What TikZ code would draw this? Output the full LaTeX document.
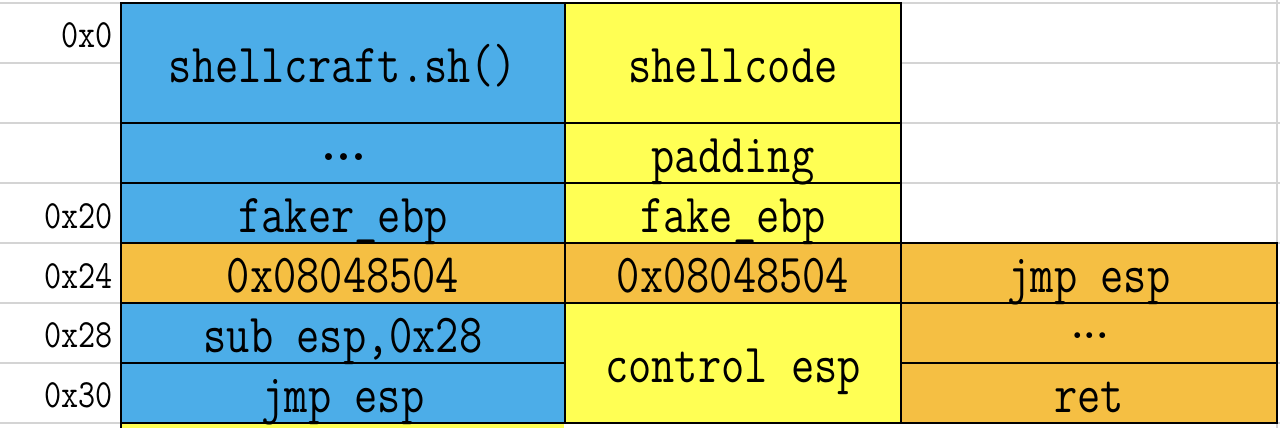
\documentclass[tikz,border=0pt]{standalone}
\usepackage{graphicx}
\definecolor{cblue}{RGB}{76,173,232}
\definecolor{cyellow}{RGB}{255,255,84}
\definecolor{corange}{RGB}{245,191,67}
\definecolor{cgrid}{RGB}{212,212,212}
\tikzset{
  gridline/.style={draw=cgrid, line width=1.5pt},
  cellbox/.style={draw=black, line width=2.4pt},
  celltext/.style={anchor=base, inner sep=0pt, font=\fontsize{55}{60}\selectfont\ttfamily},
  dotstext/.style={anchor=base, inner sep=0pt, font=\fontsize{48}{52}\selectfont\rmfamily\bfseries},
  smalldots/.style={anchor=base, inner sep=0pt, font=\fontsize{40}{44}\selectfont\rmfamily\bfseries},
  addr/.style={anchor=base east, inner sep=0pt, font=\fontsize{40}{44}\selectfont\ttfamily},
}
\newcommand{\sqz}[1]{\scalebox{0.82}[1]{#1}}
\newcommand{\sqa}[1]{\scalebox{0.83}[1]{#1}}
\begin{document}
\begin{tikzpicture}[x=1pt,y=-1pt]
\useasboundingbox (0,0) rectangle (1280,428);
% spreadsheet grid
\foreach \yy in {3,63,...,423} \draw[gridline] (0,\yy) -- (1280,\yy);
\draw[gridline] (1277,0) -- (1277,428);
% column 1
\path[cellbox, fill=cblue]   (121,3)   rectangle (565,123);
\path[cellbox, fill=cblue]   (121,123) rectangle (565,183);
\path[cellbox, fill=cblue]   (121,183) rectangle (565,243);
\path[cellbox, fill=corange] (121,243) rectangle (565,303);
\path[cellbox, fill=cblue]   (121,303) rectangle (565,363);
\path[cellbox, fill=cblue]   (121,363) rectangle (565,423);
\fill[cyellow] (122,424) rectangle (564,429);
\draw[black, line width=2.4pt] (121,423) -- (121,429);
% column 2
\path[cellbox, fill=cyellow] (565,3)   rectangle (901,123);
\path[cellbox, fill=cyellow] (565,123) rectangle (901,183);
\path[cellbox, fill=cyellow] (565,183) rectangle (901,243);
\path[cellbox, fill=corange] (565,243) rectangle (901,303);
\path[cellbox, fill=cyellow] (565,303) rectangle (901,423);
% column 3
\path[cellbox, fill=corange] (901,243) rectangle (1277,303);
\path[cellbox, fill=corange] (901,303) rectangle (1277,363);
\path[cellbox, fill=corange] (901,363) rectangle (1277,423);
% addresses
\node[addr] (a0)  at (113,48)  {\sqa{0x0}};
\node[addr] (a20) at (113,228) {\sqa{0x20}};
\node[addr] (a24) at (113,288) {\sqa{0x24}};
\node[addr] (a28) at (113,347) {\sqa{0x28}};
\node[addr] (a30) at (113,407) {\sqa{0x30}};
% column 1 texts
\node[celltext] (t11) at (343,82)  {\sqz{shellcraft.sh()}};
\node[dotstext] (t12) at (344,160) {...};
\node[celltext] (t13) at (343,232) {\sqz{faker\_ebp}};
\node[celltext] (t14) at (343,292) {\sqz{0x08048504}};
\node[celltext] (t15) at (343,352) {\sqz{sub esp,0x28}};
\node[celltext] (t16) at (343,412) {\sqz{jmp esp}};
% column 2 texts
\node[celltext] (t21) at (733,82)  {\sqz{shellcode}};
\node[celltext] (t22) at (733,172) {\sqz{padding}};
\node[celltext] (t23) at (733,232) {\sqz{fake\_ebp}};
\node[celltext] (t24) at (733,292) {\sqz{0x08048504}};
\node[celltext] (t25) at (733,382) {\sqz{control esp}};
% column 3 texts
\node[celltext] (t34) at (1089,292) {\sqz{jmp esp}};
\node[smalldots] (t35) at (1090,338) {...};
\node[celltext] (t36) at (1089,412) {\sqz{ret}};
\end{tikzpicture}
\end{document}
